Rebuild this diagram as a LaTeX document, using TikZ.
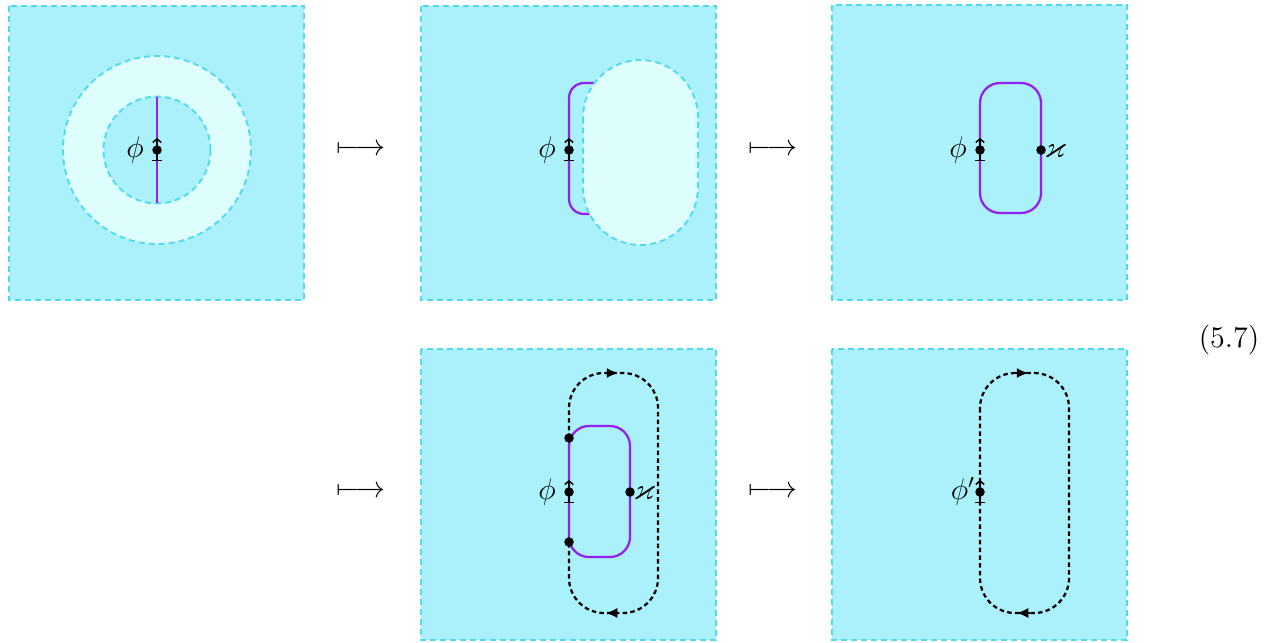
\documentclass[tikz,border=0pt]{standalone}
\usepackage{amsmath,amssymb}
\usetikzlibrary{arrows.meta}
\definecolor{bgcyan}{RGB}{170,241,252}
\definecolor{lightcyan}{RGB}{222,253,253}
\definecolor{bordercyan}{RGB}{80,218,240}
\definecolor{purp}{RGB}{150,30,240}
\tikzset{
  panel/.style={fill=bgcyan, draw=bordercyan, line width=0.75pt, dash pattern=on 2.4pt off 1.6pt},
  region/.style={fill=lightcyan, draw=bordercyan, line width=0.75pt, dash pattern=on 2.4pt off 1.6pt},
  wline/.style={draw=purp, line width=0.9pt},
  loopline/.style={draw=black, line width=0.9pt, dash pattern=on 1.8pt off 1.3pt},
  dotpt/.style={circle, fill=black, inner sep=0pt, minimum size=3.8pt},
  lbl/.style={inner sep=0pt},
  tip/.style={-{Latex[length=4.5pt,width=4pt]}, solid, line width=0.5pt},
  marker/.style={{Bar[width=4pt]}-{Straight Barb[length=1.4pt,width=3.4pt]}, line width=0.6pt, solid}
}
\begin{document}
\begin{tikzpicture}[x=0.4pt,y=-0.4pt, font=\fontsize{12}{14}\selectfont]
\useasboundingbox (0,0) rectangle (1270,642);
% ---------- Panel 1
\draw[panel] (9,6) rectangle (304,300);
\draw[region] (157,150) circle (94);
\draw[panel] (157,150) circle (53.5);
\draw[wline] (157,97) -- (157,203);
\draw[marker] (157,161) -- (157,138);
\node[dotpt] (d1) at (157,150) {};
\node[lbl] (p1) at (135,150) {$\phi$};
% ---------- mapsto
\node[lbl] (m1) at (361,150) {$\longmapsto$};
% ---------- Panel 2
\draw[panel] (421,6) rectangle (716,300);
\draw[wline, rounded corners=6pt] (600,83) -- (569,83) -- (569,214) -- (600,214);
\draw[region, rounded corners=23pt] (583,60) rectangle (698,245);
\draw[marker] (569,161) -- (569,138);
\node[dotpt] (d2) at (569,150) {};
\node[lbl] (p2) at (547,150) {$\phi$};
% ---------- mapsto
\node[lbl] (m2) at (773,150) {$\longmapsto$};
% ---------- Panel 3
\draw[panel] (832,5) rectangle (1127,300);
\draw[wline, rounded corners=8pt] (980,83) rectangle (1041,213);
\draw[marker] (980,161) -- (980,138);
\node[dotpt] (d3) at (980,150) {};
\node[dotpt] (k3) at (1041,150) {};
\node[lbl] (p3) at (958,150) {$\phi$};
\node[lbl, anchor=west] (q3) at (1044,151) {$\varkappa$};
% ---------- equation number
\node[lbl] (eq) at (1229,340) {(5.7)};
% ---------- Row 2 mapsto
\node[lbl] (m3) at (361,492) {$\longmapsto$};
\node[lbl] (m4) at (773,492) {$\longmapsto$};
% ---------- Panel 4
\draw[panel] (421,349) rectangle (716,640);
\draw[wline, rounded corners=8pt] (569,426) rectangle (630,557);
\draw[loopline, rounded corners=14pt] (569,438) -- (569,373) -- (658,373) -- (658,613) -- (569,613) -- (569,542);
\draw[tip] (605,373) -- (618,373);
\draw[tip] (619,613) -- (606,613);
\draw[marker] (569,503) -- (569,480);
\node[dotpt] (a4) at (569,438) {};
\node[dotpt] (d4) at (569,492) {};
\node[dotpt] (b4) at (569,542) {};
\node[dotpt] (k4) at (630,492) {};
\node[lbl] (p4) at (547,492) {$\phi$};
\node[lbl, anchor=west] (q4) at (633,493) {$\varkappa$};
% ---------- Panel 5
\draw[panel] (832,349) rectangle (1127,640);
\draw[loopline, rounded corners=14pt] (980,373) rectangle (1069,613);
\draw[tip] (1015,373) -- (1028,373);
\draw[tip] (1030,613) -- (1017,613);
\draw[marker] (980,503) -- (980,480);
\node[dotpt] (d5) at (980,492) {};
\node[lbl] (p5) at (963,491) {$\phi'$};
\end{tikzpicture}
\end{document}
